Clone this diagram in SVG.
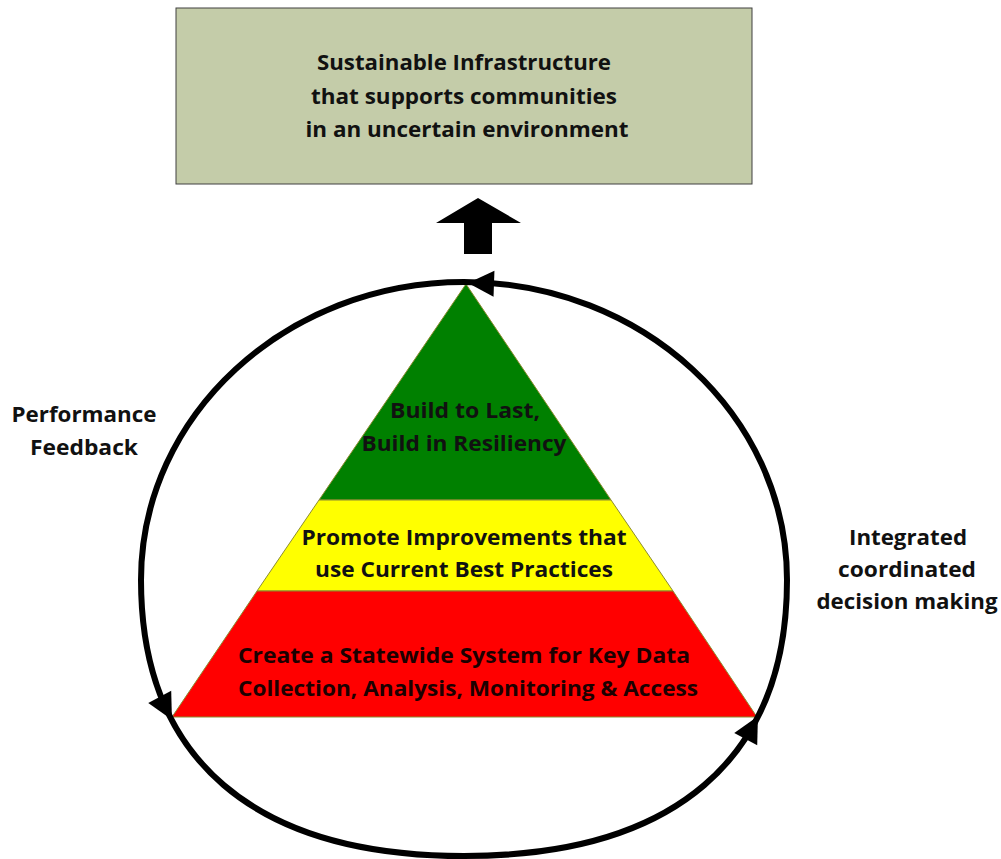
<svg xmlns="http://www.w3.org/2000/svg" xmlns:xlink="http://www.w3.org/1999/xlink" width="1001" height="859" viewBox="0 0 1001 859">
  <style>
    .t { font-family: "Open Sans", "Noto Sans", "Liberation Sans", sans-serif; font-weight: 700; font-size: 22px; fill: #111; text-anchor: middle; }
    .tr { fill: #1c0000; }
    .band { stroke: #8c8c30; stroke-width: 1; }
    .cycle { fill: none; stroke: #000; stroke-width: 6; }
  </style>
  <defs>
    <polygon id="ah" points="2,0 -24,-13 -24,13" fill="#000"/>
  </defs>
  <rect width="1001" height="859" fill="#fff"/>

  <g id="goal-box">
    <rect x="176" y="8" width="576" height="176" fill="#c4cca9" stroke="#404040" stroke-width="1"/>
    <text class="t" x="464" y="70" textLength="294" lengthAdjust="spacingAndGlyphs">Sustainable Infrastructure</text>
    <text class="t" x="464" y="104" textLength="306" lengthAdjust="spacingAndGlyphs">that supports communities</text>
    <text class="t" x="467" y="137" textLength="323" lengthAdjust="spacingAndGlyphs">in an uncertain environment</text>
  </g>

  <g id="up-arrow">
    <polygon points="478,198 521,223 492,223 492,254 464,254 464,223 436,223" fill="#000"/>
  </g>

  <g id="pyramid-top">
    <polygon class="band" points="466,284 611,500 319,500" fill="#008000"/>
    <text class="t" x="465" y="418" textLength="150" lengthAdjust="spacingAndGlyphs">Build to Last,</text>
    <text class="t" x="464" y="451" textLength="205" lengthAdjust="spacingAndGlyphs">Build in Resiliency</text>
  </g>

  <g id="pyramid-middle">
    <polygon class="band" points="319,500 611,500 673,591 257,591" fill="#ffff00"/>
    <text class="t" x="464" y="545" textLength="325" lengthAdjust="spacingAndGlyphs">Promote Improvements that</text>
    <text class="t" x="464" y="577" textLength="298" lengthAdjust="spacingAndGlyphs">use Current Best Practices</text>
  </g>

  <g id="pyramid-base">
    <polygon class="band" points="257,591 673,591 757,717 172,717" fill="#ff0000"/>
    <text class="t tr" x="464" y="663" textLength="452" lengthAdjust="spacingAndGlyphs">Create a Statewide System for Key Data</text>
    <text class="t tr" x="468" y="696" textLength="460" lengthAdjust="spacingAndGlyphs">Collection, Analysis, Monitoring &amp; Access</text>
  </g>

  <g id="label-feedback">
    <text class="t" x="84" y="422" textLength="145" lengthAdjust="spacingAndGlyphs">Performance</text>
    <text class="t" x="84" y="455" textLength="108" lengthAdjust="spacingAndGlyphs">Feedback</text>
  </g>

  <g id="label-decision">
    <text class="t" x="908" y="545" textLength="118" lengthAdjust="spacingAndGlyphs">Integrated</text>
    <text class="t" x="907" y="577" textLength="138" lengthAdjust="spacingAndGlyphs">coordinated</text>
    <text class="t" x="907" y="609" textLength="181" lengthAdjust="spacingAndGlyphs">decision making</text>
  </g>

  <g id="connectors">
    <path class="cycle" d="M464,282 C286,282 141,415 141,580 C141,759 254,856 464,856 C674,856 787,759 787,580 C787,415 642,282 464,282 Z"/>
    <use xlink:href="#ah" transform="translate(470,283) rotate(182)"/>
    <use xlink:href="#ah" transform="translate(171,718) rotate(62)"/>
    <use xlink:href="#ah" transform="translate(757,718) rotate(-62)"/>
  </g>
</svg>
